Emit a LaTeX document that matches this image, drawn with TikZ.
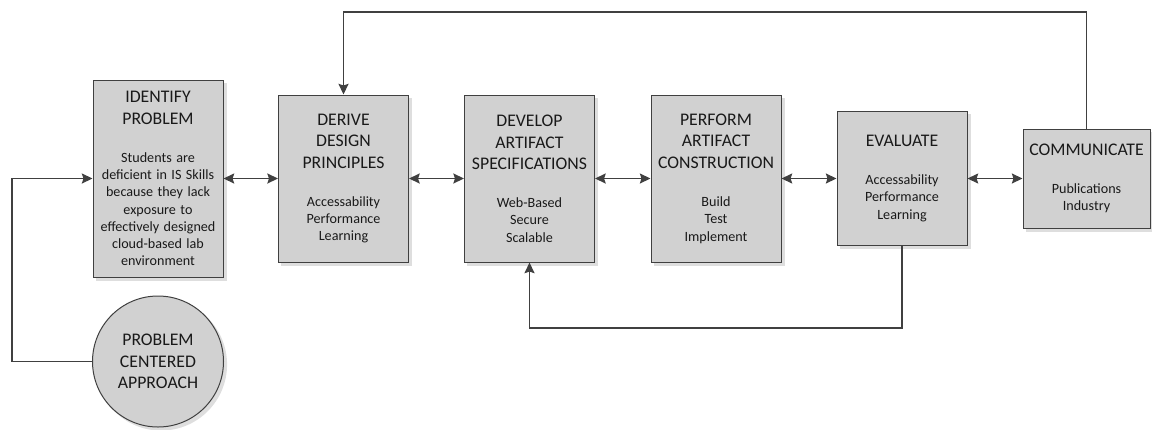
\documentclass[tikz,border=0pt]{standalone}
\usepackage{fontspec}
\setmainfont{Carlito}
\usetikzlibrary{arrows.meta,calc,backgrounds}

\definecolor{edgegray}{HTML}{404040}
\definecolor{boxfill}{HTML}{D1D1D1}
\definecolor{shadowgray}{HTML}{DEDEDE}

\newcommand\titlefont{\fontsize{13.3pt}{16.3pt}\selectfont}
\newcommand\bodyfont{\fontsize{10.6pt}{12.9pt}\selectfont}
% title lines, a gap, then the body lines
\newcommand\stagetext[2]{{\titlefont #1\par}\vspace{15.6pt}{\bodyfont #2\par}}

\tikzset{
  phase/.style={
    draw=edgegray, line width=0.75pt, fill=boxfill,
    inner sep=0pt, align=center, text=black!90
  },
  phasewide/.style={phase, minimum width=97.5pt, text width=97.5pt},
  roundphase/.style={
    draw=edgegray, line width=0.75pt, circle, fill=boxfill,
    inner sep=0pt, minimum size=98.25pt, align=center, font=\titlefont, text=black!90
  },
  link/.style={draw=edgegray, line width=1.1pt},
  tip/.style={-{Stealth[length=8pt, width=7.5pt, inset=1.2pt]}},
  bothtips/.style={{Stealth[length=8pt, width=7.5pt, inset=1.2pt]}-{Stealth[length=8pt, width=7.5pt, inset=1.2pt]}}
}

\begin{document}
\begin{tikzpicture}[x=0.75pt, y=-0.75pt]
\useasboundingbox (0,0) rectangle (1152,429);

% process stages
\node[phasewide, minimum height=147.75pt] (idp) at (158,178.5)
  {\stagetext{IDENTIFY\\PROBLEM}{Students are\\deficient in IS Skills\\because they lack\\exposure to\\effectively designed\\cloud-based lab\\environment}};
\node[phasewide, minimum height=125.25pt] (ddp) at (343.5,178.5)
  {\stagetext{DERIVE\\DESIGN\\PRINCIPLES}{Accessability\\Performance\\Learning}};
\node[phasewide, minimum height=125.25pt] (das) at (529.5,178.5)
  {\stagetext{DEVELOP\\ARTIFACT\\SPECIFICATIONS}{Web-Based\\Secure\\Scalable}};
\node[phasewide, minimum height=125.25pt] (pac) at (716,178.5)
  {\stagetext{PERFORM\\ARTIFACT\\CONSTRUCTION}{Build\\Test\\Implement}};
\node[phasewide, minimum height=100.5pt] (eva) at (902,178.5)
  {\stagetext{EVALUATE}{Accessability\\Performance\\Learning}};
\node[phase, minimum width=95.25pt, text width=95.25pt, minimum height=74.25pt] (com) at (1086.5,178.5)
  {\stagetext{COMMUNICATE}{Publications\\Industry}};

\node[roundphase] (pca) at (158,361.5) {PROBLEM\\CENTERED\\APPROACH};

% soft offset shadows behind the shapes
\begin{scope}[on background layer]
  \foreach \n in {idp,ddp,das,pac,eva,com}
    \fill[shadowgray] ($(\n.south west)+(2.3pt,-2.3pt)$) rectangle ($(\n.north east)+(2.3pt,-2.3pt)$);
  \fill[shadowgray] ($(pca.center)+(2.3pt,-2.3pt)$) circle[radius=49.5pt];
\end{scope}

% corner points of the feedback loops
\coordinate (leftturn) at (12,178.5);
\coordinate (topturn) at (343.5,12);
\coordinate (botturn) at (529.5,328);

% two-way links between neighbouring stages
\draw[link, bothtips] (idp.east) -- (ddp.west);
\draw[link, bothtips] (ddp.east) -- (das.west);
\draw[link, bothtips] (das.east) -- (pac.west);
\draw[link, bothtips] (pac.east) -- (eva.west);
\draw[link, bothtips] (eva.east) -- (com.west);

% feedback loops
\draw[link, tip] (pca.west) -| (leftturn) -- (idp.west);
\draw[link, tip] (com.north) |- (topturn) -- (ddp.north);
\draw[link, tip] (eva.south) |- (botturn) -- (das.south);
\end{tikzpicture}
\end{document}
